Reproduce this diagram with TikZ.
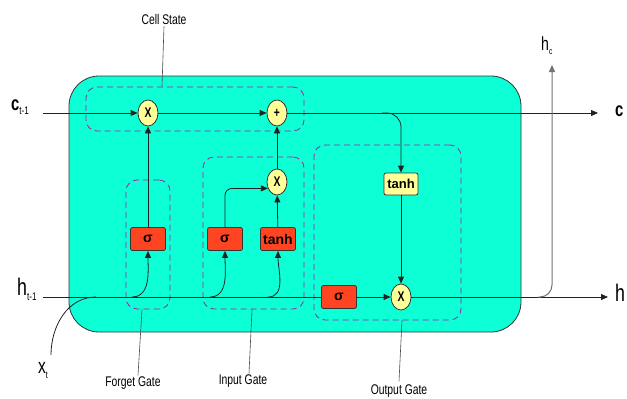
\documentclass[tikz,border=0pt]{standalone}
\usepackage{fontspec}
\setmainfont{Liberation Sans}
\newfontfamily\narrowf[FakeStretch=0.74]{Liberation Sans}
\usetikzlibrary{arrows.meta,calc,shapes.geometric}
\definecolor{cellcyan}{HTML}{0DFFD6}
\definecolor{gatered}{HTML}{FF4422}
\definecolor{opyellow}{HTML}{FFFF99}
\definecolor{dashpurple}{HTML}{A020A0}
\definecolor{linegray}{HTML}{222222}
\begin{document}
\begin{tikzpicture}[x=1pt,y=-1pt,
  op/.style={ellipse, draw=black!80, line width=0.8pt, fill=opyellow, minimum width=20pt, minimum height=26pt, inner sep=0pt, font=\narrowf\bfseries\fontsize{14}{14}\selectfont},
  redbox/.style={draw=black!80, line width=0.8pt, rounded corners=2pt, fill=gatered, minimum width=35pt, minimum height=23pt, inner sep=0pt, font=\bfseries\fontsize{14}{14}\selectfont},
  yelbox/.style={draw=black!80, line width=0.8pt, rounded corners=2pt, fill=opyellow, minimum width=34pt, minimum height=22pt, inner sep=0pt, font=\bfseries\fontsize{13}{13}\selectfont},
  gatebox/.style={draw=dashpurple, dash pattern=on 6pt off 4pt, rounded corners=11pt, line width=0.8pt, inner sep=0pt, fill=none},
  lbl/.style={font=\narrowf\fontsize{14}{14}\selectfont, inner sep=1pt},
  io/.style={font=\narrowf\fontsize{18}{18}\selectfont, inner sep=0pt},
  arr/.style={-{Triangle[length=7pt,width=6pt]}, line width=0.8pt, draw=linegray},
  wire/.style={line width=0.8pt, draw=linegray},
  thin/.style={line width=0.6pt, draw=black!70}]
\useasboundingbox (0,0) rectangle (627,399);
\fill[white] (0,0) rectangle (627,399);
% main cell body
\draw[fill=cellcyan, rounded corners=30pt, line width=0.8pt, draw=black!80] (69,76) rectangle (521,332);

% gate regions
\node[gatebox, minimum width=218pt, minimum height=44pt] (cellbox) at (195,109) {};
\node[gatebox, minimum width=44pt, minimum height=129pt] (fgbox) at (148,244.5) {};
\node[gatebox, minimum width=101pt, minimum height=152pt] (inbox) at (253.5,233) {};
\node[gatebox, minimum width=147pt, minimum height=175pt] (outbox) at (387.5,232.5) {};

% operations
\node[op] (mulf) at (148,113) {X};
\node[op] (add) at (277,113) {+};
\node[op] (muli) at (277,182) {X};
\node[yelbox] (tanhc) at (401,184) {tanh};
\node[op] (mulo) at (401,297) {X};
\node[redbox] (sigo) at (339,297) {σ};
\node[redbox] (sigf) at (148,239) {σ};
\node[redbox] (sigi) at (225,239) {σ};
\node[redbox] (tanhi) at (278,239) {tanh};

% in/out labels
\node[io, anchor=west] (cin) at (11,107) {{\bfseries\fontsize{20}{20}\selectfont c}\raisebox{-4pt}{\fontsize{11}{11}\selectfont t-1}};
\node[io, anchor=west] (hin) at (17,289) {{\fontsize{24}{24}\selectfont h}\raisebox{-5pt}{\fontsize{11}{11}\selectfont t-1}};
\node[io, anchor=west] (xt) at (38,370) {{\fontsize{21}{21}\selectfont x}\raisebox{-5pt}{\fontsize{10}{10}\selectfont t}};
\node[io, anchor=west] (cout) at (615,111) {{\bfseries\fontsize{20}{20}\selectfont c}};
\node[io, anchor=west] (hout) at (615,293) {{\fontsize{24}{24}\selectfont h}};
\node[io, anchor=west] (hc) at (541,46) {{\fontsize{19}{19}\selectfont h}\raisebox{-4pt}{\fontsize{9}{9}\selectfont c}};

% gate labels
\node[lbl] (lcell) at (164,19) {Cell State};
\node[lbl] (lforget) at (133,383) {Forget Gate};
\node[lbl] (linput) at (243,381) {Input Gate};
\node[lbl] (loutput) at (399,391) {Output Gate};
\draw[thin] ($(lcell.south)+(0,1)$) -- ($(cellbox.north)+(-33,0)$);
\draw[thin] ($(lforget.north)+(5,0)$) -- ($(fgbox.south)+(-6,0)$);
\draw[thin] ($(linput.north)+(6,0)$) -- ($(inbox.south)+(-1.5,0)$);
\draw[thin] ($(loutput.north)+(0,-2)$) -- ($(outbox.south)+(14.5,0)$);

% coordinates
\coordinate (cstart) at (43,113);
\coordinate (cend) at (598,113);
\coordinate (hstart) at (43,297);
\coordinate (hend) at (608,297);
\coordinate (tc0) at (382,113);
\coordinate (hf) at (132,297);
\coordinate (hi1) at (210,297);
\coordinate (hi2) at (268,297);
\coordinate (xt0) at (51,355);
\coordinate (xtj) at (96,297);
\coordinate (hc0) at (538,297);
\coordinate (hctop) at (552,65);

% cell state line
\draw[arr] (cstart) -- (mulf);
\draw[arr] (mulf) -- (add);
\draw[arr] (add) -- (cend);
\draw[arr, rounded corners=14pt] (tc0) -| (tanhc.north);
\draw[arr] (tanhc) -- (mulo);

% hidden state line
\draw[wire] (hstart) -- (sigo.west);
\draw[arr] (sigo) -- (mulo);
\draw[arr] (mulo) -- (hend);
\draw[wire] (xt0) to[out=90,in=180] (xtj);
\draw[arr, draw=black!55, line width=1pt, rounded corners=12pt] (hc0) -| (hctop);

% gate inputs
\draw[arr] (hf) to[out=0,in=-90] (sigf.south);
\draw[arr] (hi1) to[out=0,in=-90] (sigi.south);
\draw[arr] (hi2) to[out=0,in=-90] (tanhi.south);

% gate outputs
\draw[arr] (sigf) -- (mulf);
\draw[arr, rounded corners=7pt] (sigi.north) |- (muli.-145);
\draw[arr] (tanhi) -- (muli);
\draw[arr] (muli) -- (add);
\end{tikzpicture}
\end{document}
